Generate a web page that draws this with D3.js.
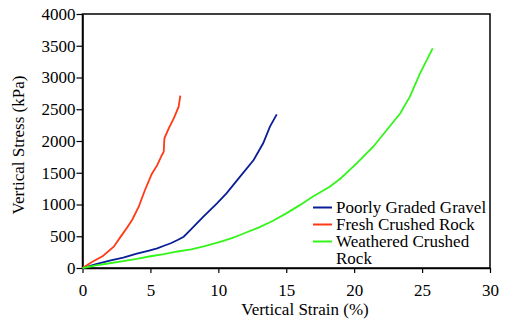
<!DOCTYPE html>
<html><head><meta charset="utf-8">
<script src="https://cdn.jsdelivr.net/npm/d3@7"></script>
</head><body style="margin:0">
<script>
const xTicks = [0,5,10,15,20,25,30];
const yTicks = [0,500,1000,1500,2000,2500,3000,3500,4000];
const seriesNames = ["Poorly Graded Gravel","Fresh Crushed Rock","Weathered Crushed Rock"];
const seriesColors = ["#0A1E9A","#FF3A14","#33F51A"];
const gravel = [[0,0],[1,60],[2,115],[3,165],[4,225],[4.9,275],[5.5,310],[6.0,350],[6.5,390],[7.0,440],[7.45,493],[7.95,600],[8.9,808],[9.9,1019],[10.6,1176],[11.6,1438],[12.6,1700],[13.3,1964],[13.8,2226],[14.3,2420]];
const fresh = [[0,0],[0.7,95],[1.5,190],[2.3,335],[2.8,490],[3.3,640],[3.65,756],[4.14,965],[4.6,1228],[5.1,1480],[5.5,1620],[5.85,1780],[5.98,1830],[6.03,2042],[6.35,2200],[6.72,2357],[7.08,2541],[7.2,2714]];
const weathered = [[0,0],[1,40],[2,75],[3,110],[4,145],[5,185],[6,220],[7,260],[8,295],[9,345],[10,405],[11,470],[11.6,520],[12,555],[13,640],[14,740],[15,860],[16,990],[17,1130],[18.2,1280],[19,1410],[20.2,1650],[21.4,1910],[22.4,2173],[23.4,2436],[24.1,2698],[24.85,3066],[25.78,3460]];
const seriesData = [gravel, fresh, weathered];
const FONT = "Times New Roman";
const FS = 17;

const W=510,H=322;
const svg=d3.select("body").append("svg").attr("width",W).attr("height",H)
  .style("font-family",FONT);
const x=d3.scaleLinear().domain([0,30]).range([82.5,490]);
const y=d3.scaleLinear().domain([0,4000]).range([268,14]);

svg.append("rect").attr("x",82.5).attr("y",14).attr("width",490-82.5).attr("height",268-14)
  .attr("fill","none").attr("stroke","#000").attr("stroke-width",1.5);

function txt(sel){ return sel.attr("font-size",FS).style("font-family",FONT).attr("fill","#000"); }

const xa=svg.append("g").attr("transform","translate(0,268)")
  .call(d3.axisBottom(x).tickValues(xTicks).tickFormat(d3.format("d")).tickSize(5).tickPadding(11).tickSizeOuter(0));
const ya=svg.append("g").attr("transform","translate(82.5,0)")
  .call(d3.axisLeft(y).tickValues(yTicks).tickFormat(d3.format("d")).tickSize(6).tickPadding(1).tickSizeOuter(0));
[xa,ya].forEach(a=>{a.attr("font-family",null).attr("font-size",null);
  a.select(".domain").attr("stroke","#000").attr("stroke-width",1.5);
  a.selectAll(".tick line").attr("stroke","#000").attr("stroke-width",1.2);
  txt(a.selectAll("text"));});

const line=d3.line().x(d=>x(d[0])).y(d=>y(d[1]));
seriesData.forEach((s,i)=>{
  svg.append("path").datum(s).attr("d",line).attr("fill","none")
    .attr("stroke",seriesColors[i]).attr("stroke-width",1.8);
});

txt(svg.append("text").attr("x",305).attr("y",315).attr("text-anchor","middle")).text("Vertical Strain (%)");
txt(svg.append("text").attr("transform","translate(24,145) rotate(-90)").attr("text-anchor","middle")).text("Vertical Stress (kPa)");

const lg=svg.append("g");
const rows=[[0,207.5,["Poorly Graded Gravel"]],[1,224.5,["Fresh Crushed Rock"]],[2,241.5,["Weathered Crushed","Rock"]]];
rows.forEach(([i,yy,lines])=>{
  lg.append("line").attr("x1",313).attr("x2",332).attr("y1",yy).attr("y2",yy).attr("stroke",seriesColors[i]).attr("stroke-width",2);
  lines.forEach((t,k)=>txt(lg.append("text").attr("x",336).attr("y",yy+5+k*17)).text(t));
});
</script>
</body></html>
